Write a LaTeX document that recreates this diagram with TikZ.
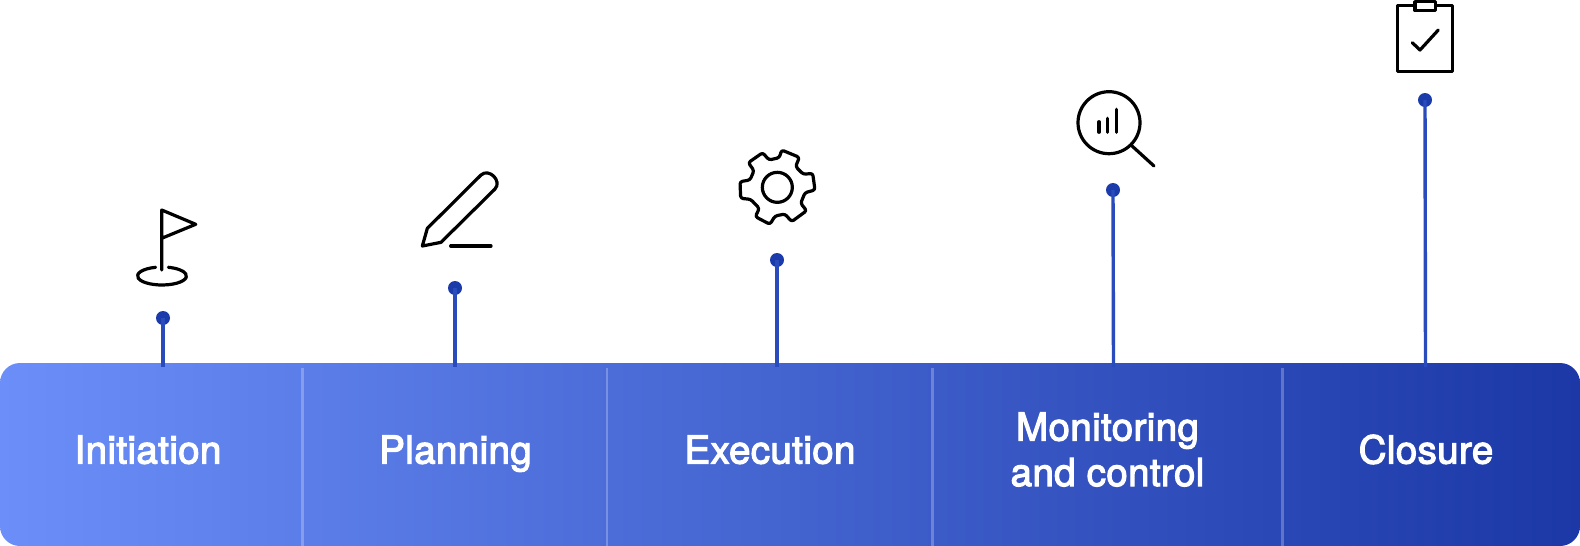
\documentclass[tikz,border=0pt]{standalone}
\usepackage{fontspec}
\setmainfont[FakeBold=3,LetterSpace=1.0]{TeX Gyre Heros}
\definecolor{dotblue}{HTML}{1B3BAA}
\definecolor{stemblue}{HTML}{2A4BBB}
\definecolor{barL}{HTML}{6B8EF8}
\definecolor{barR}{HTML}{1B38A6}
\tikzset{
  icon/.style={draw=black,line width=3.2pt,line join=round,line cap=round,fill=none},
  stem/.style={draw=stemblue,line width=3.4pt},
  dotnode/.style={circle,fill=dotblue,draw=none,inner sep=0pt,minimum size=14pt},
  divider/.style={draw=white,draw opacity=0.25,line width=2.6pt},
  phase/.style={text=white,font=\fontsize{38.5}{45}\selectfont,anchor=base,inner sep=0pt}
}
\begin{document}
\begin{tikzpicture}[x=1pt,y=-1pt]
\useasboundingbox (0,0) rectangle (1580,546);
\begin{scope}
\clip[rounded corners=20pt] (0,363) rectangle (1580,546);
\shade[left color=barL,right color=barR] (0,363) rectangle (1580,546);
\end{scope}
\foreach \x in {302.5,607,932.5,1282.5}{\draw[divider] (\x,368) -- (\x,546);}
\node[phase] (p1) at (148,463.5) {Initiation};
\node[phase] (p2) at (455.5,463.5) {Planning};
\node[phase] (p3) at (770,463.5) {Execution};
\node[phase] (p4a) at (1107.5,440.5) {Monitoring};
\node[phase] (p4b) at (1107.5,486) {and control};
\node[phase] (p5) at (1426,463.5) {Closure};
\node[dotnode] (d1) at (163,318) {};
\node[dotnode] (d2) at (455,288) {};
\node[dotnode] (d3) at (777,260) {};
\node[dotnode] (d4) at (1113,190) {};
\node[dotnode] (d5) at (1425,100) {};
\coordinate (b1) at (163,367);
\coordinate (b2) at (455,367);
\coordinate (b3) at (777,367);
\coordinate (b4) at (1113.5,367);
\coordinate (b5) at (1425.5,367);
\foreach \i in {1,...,5}{\draw[stem] (d\i.center) -- (b\i);}
% flag
\draw[icon] (161.7,270) -- (161.7,210) -- (195.7,224.3) -- (161.7,238.3);
\draw[icon] (155.66,267.3) arc[start angle=-105,end angle=-435,x radius=24.5,y radius=9];
% pencil
\begin{scope}[shift={(415,165)},x=0.33333pt,y=-0.33333pt]
\draw[icon] (22,243) -- (37,190) -- (198,30) .. controls (222,8) and (262,48) .. (240,72) -- (78,232) -- cycle;
\draw[icon] (107,243) -- (228,243);
\end{scope}
% gear
\begin{scope}[shift={(730,140)},x=0.33333pt,y=-0.33333pt]
\draw[icon,rounded corners=2.5pt] (155,30) -- (208,52) -- (197,80) -- (220,103) -- (248,100) -- (255,150) -- (225,158) -- (212,190) -- (230,212) -- (185,245) -- (165,222) -- (135,228) -- (120,253) -- (76,230) -- (88,205) -- (62,178) -- (32,175) -- (30,125) -- (60,120) -- (72,92) -- (55,68) -- (98,38) -- (117,60) -- (148,53) -- cycle;
\draw[icon] (142,142) circle[radius=15pt];
\end{scope}
% magnifier
\draw[icon] (1109,122.7) circle[radius=31];
\draw[icon] (1131.7,145.7) -- (1154,166);
\draw[icon] (1099,132.3) -- (1099,121.7);
\draw[icon] (1107.7,132.3) -- (1107.7,118.3);
\draw[icon] (1116.3,132.3) -- (1116.3,109.3);
% clipboard
\draw[icon] (1397.7,5.7) rectangle (1452.7,71.7);
\draw[icon,fill=white] (1415,1.6) rectangle (1435.3,10.7);
\draw[icon] (1412.3,42.7) -- (1420,50) -- (1438.3,30);
\end{tikzpicture}
\end{document}
